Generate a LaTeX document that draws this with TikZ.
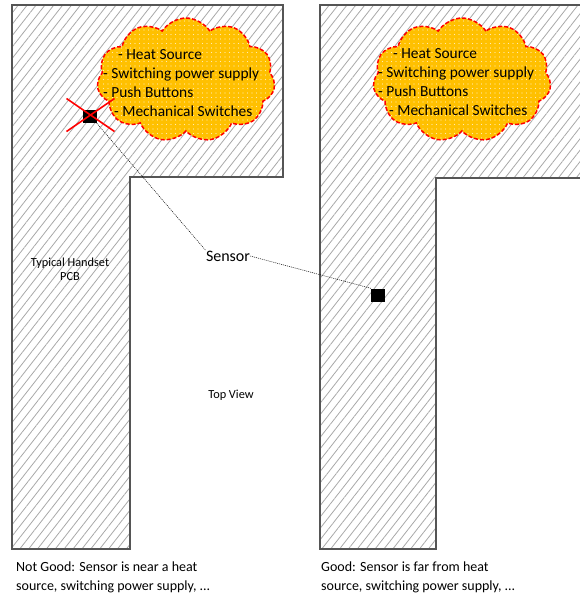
\documentclass[tikz,border=0pt]{standalone}
\usepackage{fontspec}
\setmainfont{Carlito}
\usetikzlibrary{shapes.symbols,patterns.meta}
\definecolor{outl}{HTML}{555555}
\definecolor{hatch}{HTML}{A8A8A8}
\definecolor{cloudfill}{HTML}{FFC000}
\tikzset{
  pcbhatch/.style={pattern={Lines[angle=52,distance=7pt,line width=0.8pt]}, pattern color=hatch},
  pcb/.style={draw=outl, line width=1.1pt, pcbhatch},
  heat/.style={cloud, cloud puffs=11, cloud puff arc=115, draw=red, line width=1.5pt, dash pattern=on 4pt off 2pt,
     preaction={fill=cloudfill}, pattern={Dots[radius=0.55pt,distance=4.5pt]}, pattern color=white!70!cloudfill,
     minimum width=178pt, minimum height=124pt, inner sep=0pt},
  sensorbox/.style={fill=black, minimum width=14pt, minimum height=13pt, inner sep=0pt},
  leader/.style={line width=0.5pt, dash pattern=on 1pt off 1pt},
  lbl/.style={font=\fontsize{15.4}{19}\selectfont, inner sep=0pt},
  senslbl/.style={font=\fontsize{16}{19}\selectfont, inner sep=0pt},
  small/.style={font=\fontsize{12.3}{14}\selectfont, align=center, inner sep=0pt},
  caption/.style={font=\fontsize{14}{19}\selectfont, align=left, anchor=north west, inner sep=0pt},
  cross/.style={red, line width=1.6pt}
}
\begin{document}
\begin{tikzpicture}[x=1pt,y=-1pt]
\useasboundingbox (0,0) rectangle (580,597);
\clip (0,0) rectangle (580,597);
% left PCB
\draw[pcb] (12,5) -- (283,5) -- (283,177) -- (130,177) -- (130,549) -- (12,549) -- cycle;
% right PCB
\fill[pcbhatch] (320,5) -- (590,5) -- (590,178) -- (436,178) -- (436,549) -- (320,549) -- cycle;
\draw[draw=outl, line width=1.1pt] (590,5) -- (320,5) -- (320,549) -- (436,549) -- (436,178) -- (590,178);
% clouds
\node[heat] (c1) at (186,80) {};
\node[heat] (c2) at (462,80) {};
\node[lbl, align=left, anchor=north west] (t1) at (103,49) {\hspace*{15pt}- Heat Source\\- Switching power supply\\- Push Buttons\\\hspace*{11pt}- Mechanical Switches};
\node[lbl, align=left, anchor=north west] (t2) at (378,48) {\hspace*{15pt}- Heat Source\\- Switching power supply\\- Push Buttons\\\hspace*{11pt}- Mechanical Switches};
% sensors
\node[sensorbox] (s1) at (89.5,116.5) {};
\node[sensorbox] (s2) at (378,295) {};
\path (s1.center) ++(-23,-18) coordinate (x1a) (s1.center) ++(25,15) coordinate (x1b);
\path (s1.center) ++(-23,15) coordinate (x2a) (s1.center) ++(25,-18) coordinate (x2b);
\draw[cross] (x1a) -- (x1b);
\draw[cross] (x2a) -- (x2b);
\node[senslbl] (sensor) at (228,256) {Sensor};
\draw[leader] (s1.south east) -- (sensor.north west);
\draw[leader] (sensor.east) -- (s2.north west);
% labels
\node[small] (pcb) at (70,269) {Typical Handset\\PCB};
\node[small] (top) at (231,395) {Top View};
\node[caption] (cap1) at (16,562) {Not Good: Sensor is near a heat\\source, switching power supply, ...};
\node[caption] (cap2) at (321,562) {Good: Sensor is far from heat\\source, switching power supply, ...};
\end{tikzpicture}
\end{document}
